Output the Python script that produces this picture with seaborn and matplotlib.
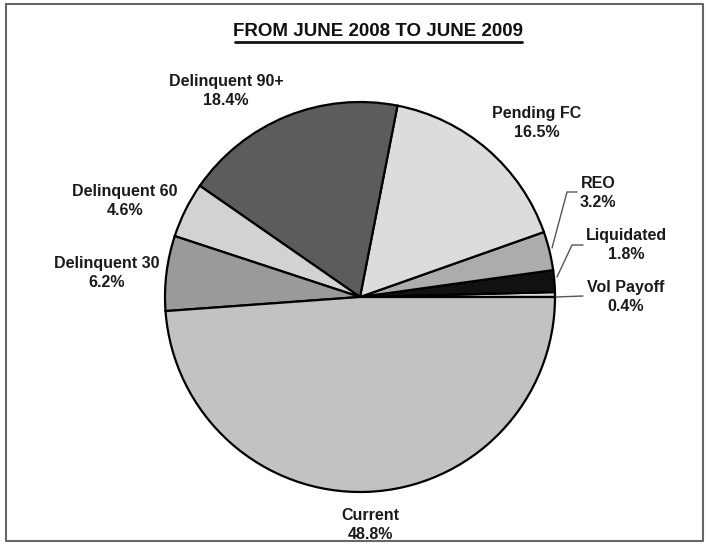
import matplotlib
matplotlib.use("Agg")
import matplotlib.pyplot as plt
import seaborn as sns
import numpy as np

sns.set_theme(style="white")
plt.rcParams['font.family'] = ['Liberation Sans', 'DejaVu Sans']

categories = ["Vol Payoff", "Liquidated", "REO", "Pending FC",
              "Delinquent 90+", "Delinquent 60", "Delinquent 30", "Current"]
values = [0.4, 1.8, 3.2, 16.5, 18.4, 4.6, 6.2, 48.8]
pct_labels = ["0.4%", "1.8%", "3.2%", "16.5%", "18.4%", "4.6%", "6.2%", "48.8%"]
title = "FROM JUNE 2008 TO JUNE 2009"

colors = ["#dedede", "#111111", "#acacac", "#dcdcdc",
          "#5c5c5c", "#d2d2d2", "#9a9a9a", "#c2c2c2"]

W, H = 706, 544
fig = plt.figure(figsize=(W / 100, H / 100), dpi=100)
ax = fig.add_axes([0, 0, 1, 1])
cx, cy, R = 360, 297, 195
ax.axis('off')

ax.pie(values, colors=colors, startangle=0, counterclock=True, radius=1.0,
       wedgeprops=dict(edgecolor="black", linewidth=1.6))
ax.set_aspect('auto')
ax.set_xlim(-cx / R, (W - cx) / R)
ax.set_ylim(-(H - cy) / R, cy / R)


def P(px, py):
    return ((px - cx) / R, (cy - py) / R)


# label positions (pixel coords of name line center)
label_pos = {
    "Delinquent 90+": (226, 80),
    "Pending FC": (537, 112),
    "REO": (598, 182),
    "Liquidated": (626, 234),
    "Vol Payoff": (626, 286),
    "Delinquent 60": (125, 190),
    "Delinquent 30": (107, 262),
    "Current": (370, 514),
}
for name, pct in zip(categories, pct_labels):
    px, py = label_pos[name]
    ax.text(*P(px, py + 11), f"{name}\n{pct}", ha="center", va="center",
            fontsize=11.5, fontweight="bold", color="#1a1a1a", linespacing=1.38)

# leader lines
leaders = [
    [(552, 248), (567, 192), (577, 192)],
    [(557, 277), (572, 245), (583, 245)],
    [(556, 297), (583, 296)],
]
for pts in leaders:
    xs, ys = zip(*[P(*p) for p in pts])
    ax.plot(xs, ys, color="#555555", lw=1.0)

# title
ax.text(*P(378, 31), title, ha="center", va="center", fontsize=13.5,
        fontweight="bold", color="#111111")
x0, _ = P(235, 0)
x1, _ = P(522, 0)
_, yu = P(0, 42)
ax.plot([x0, x1], [yu, yu], color="#111111", lw=2.0)

# frame
fx0, fy0 = P(6, 4)
fx1, fy1 = P(703, 541)
ax.plot([fx0, fx1, fx1, fx0, fx0], [fy0, fy0, fy1, fy1, fy0],
        color="#666666", lw=1.5)

fig.savefig("out.png", dpi=100)
